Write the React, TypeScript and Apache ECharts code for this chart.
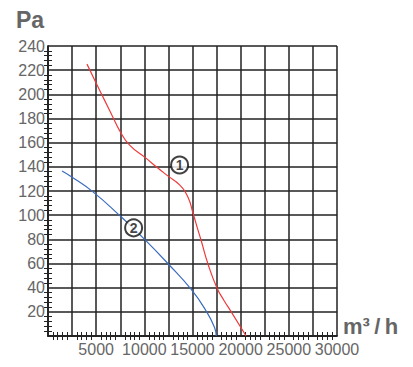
import React, { useEffect, useRef } from "react";
import * as echarts from "echarts";

const xTicks = [5000, 10000, 15000, 20000, 25000, 30000];
const yTicks = [20, 40, 60, 80, 100, 120, 140, 160, 180, 200, 220, 240];

const curve1: [number, number][] = [
  [4045, 225], [5019, 209], [5880, 195], [6740, 181], [7435, 170], [8472, 158],
  [10200, 147], [11400, 139], [12440, 132.5], [13660, 125], [14520, 115],
  [15040, 102], [15555, 88], [15900, 79], [16590, 60], [17530, 40],
  [18300, 29], [19020, 20], [20570, 0],
];
const curve2: [number, number][] = [
  [1452, 136.5], [2385, 132], [4635, 119.5], [7400, 100],
  [10030, 80], [12440, 60], [14870, 38.5], [16430, 20.5],
  [17290, 7], [17460, 0],
];
const labels1: [number, number, string][] = [[13660, 141.5, "1"]];
const labels2: [number, number, string][] = [[8887, 89.5, "2"]];

const GRID = "#222";
const LABEL = "#666";

export default function App() {
  const ref = useRef<HTMLDivElement>(null);
  useEffect(() => {
    if (!ref.current) return;
    const chart = echarts.init(ref.current, undefined, { renderer: "svg" });
    const minor = { show: true, splitNumber: 5, length: 4, lineStyle: { color: GRID, width: 1 } };
    const baseX = {
      type: "value" as const,
      min: 0,
      max: 30000,
      interval: 2500,
      axisLine: { show: true, lineStyle: { color: GRID, width: 1.5 } },
      axisTick: { show: false, inside: true },
      minorTick: minor,
    };
    const baseY = {
      type: "value" as const,
      min: 0,
      max: 240,
      interval: 20,
      axisLine: { show: true, lineStyle: { color: GRID, width: 1.5 } },
      axisTick: { show: false, inside: true },
      minorTick: minor,
    };
    const circ = (data: [number, number, string][]) => ({
      type: "scatter" as const,
      symbol: "circle",
      symbolSize: 17,
      z: 5,
      itemStyle: { color: "#fff", borderColor: "#111", borderWidth: 2 },
      label: {
        show: true,
        position: "inside" as const,
        formatter: (p: any) => p.data[2],
        color: "#111",
        fontSize: 14,
        fontWeight: "bold" as const,
        fontFamily: "Liberation Sans, Arial, sans-serif",
      },
      data,
    });
    chart.setOption({
      animation: false,
      backgroundColor: "#fff",
      grid: { left: 48, top: 46, width: 289, height: 290, containLabel: false },
      xAxis: [
        {
          ...baseX,
          position: "bottom",
          splitLine: { show: true, lineStyle: { color: GRID, width: 1.5 } },
          axisLabel: {
            margin: 5,
            color: LABEL,
            fontSize: 16,
            fontFamily: "Liberation Sans, Arial, sans-serif",
            formatter: (v: number) => (xTicks.includes(v) ? String(v) : ""),
          },
        },
        { ...baseX, position: "top", splitLine: { show: false }, axisLabel: { show: false } },
      ],
      yAxis: [
        {
          ...baseY,
          position: "left",
          splitLine: { show: true, lineStyle: { color: GRID, width: 1.5 } },
          axisLabel: {
            margin: 3,
            color: LABEL,
            fontSize: 16,
            fontFamily: "Liberation Sans, Arial, sans-serif",
            formatter: (v: number) => (yTicks.includes(v) ? String(v) : ""),
          },
        },
        { ...baseY, position: "right", splitLine: { show: false }, axisLabel: { show: false } },
      ],
      graphic: [
        {
          type: "text",
          left: 16,
          top: 8,
          style: {
            text: "Pa",
            fill: LABEL,
            font: "bold 23px 'Liberation Sans', Arial, sans-serif",
          },
        },
        {
          type: "text",
          left: 343,
          top: 315,
          style: {
            text: "m³\u2009/\u2009h",
            fill: LABEL,
            font: "bold 22px 'Liberation Sans', Arial, sans-serif",
          },
        },
      ],
      series: [
        {
          type: "line",
          data: curve1,
          smooth: 0.5,
          showSymbol: false,
          lineStyle: { color: "#f03a3a", width: 1.2 },
          z: 3,
        },
        {
          type: "line",
          data: curve2,
          smooth: 0.5,
          showSymbol: false,
          lineStyle: { color: "#3a6cc0", width: 1.2 },
          z: 3,
        },
        circ(labels1),
        circ(labels2),
      ],
    });
    return () => chart.dispose();
  }, []);
  return (
    <div
      ref={ref}
      style={{ position: "fixed", left: 0, top: 0, width: 413, height: 367, background: "#fff" }}
    />
  );
}
